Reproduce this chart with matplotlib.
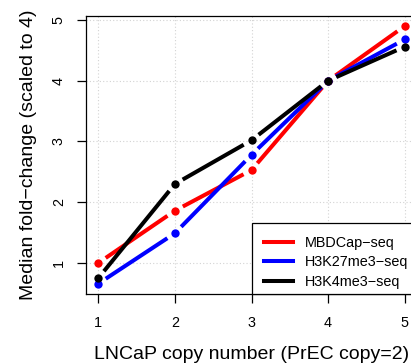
import matplotlib
matplotlib.use("Agg")
import matplotlib.pyplot as plt
from matplotlib.patches import Rectangle
import numpy as np

plt.rcParams["font.family"] = ["Liberation Sans", "DejaVu Sans"]

# copy number on x, median fold-change (scaled to 4) on y
copy_number = [1, 2, 3, 4, 5]
mbdcap = [1.00, 1.86, 2.53, 4.00, 4.90]
h3k27me3 = [0.66, 1.49, 2.78, 4.00, 4.68]
h3k4me3 = [0.75, 2.30, 3.02, 4.00, 4.56]

series_names = ["MBDCap\u2212seq", "H3K27me3\u2212seq", "H3K4me3\u2212seq"]
series_colors = ["#ff0000", "#0000ff", "#000000"]

W, H = 411, 364
fig = plt.figure(figsize=(W / 100, H / 100), dpi=100)
ax = fig.add_axes([86 / W, 1 - 294 / H, (417 - 86) / W, (294 - 15.7) / H])

ax.set_xlim(0.84, 5.16)
ax.set_ylim(0.49, 5.07)
ax.set_xticks(copy_number)
ax.set_yticks([1, 2, 3, 4, 5])
ax.grid(True, color="#d3d3d3", linestyle=(0, (1, 2)), linewidth=0.8)
ax.set_axisbelow(True)
for sp in ax.spines.values():
    sp.set_linewidth(0.9)
ax.tick_params(axis="both", length=6.5, width=0.9, labelsize=10.4)
ax.tick_params(axis="x", pad=9)
ax.tick_params(axis="y", pad=8)
plt.setp(ax.get_yticklabels(), rotation=90, va="center")

ax.set_xlabel("LNCaP copy number (PrEC copy=2)", fontsize=14, labelpad=12)
ax.set_ylabel("Median fold\u2212change (scaled to 4)", fontsize=14, labelpad=11)

GAP = 9.0  # pixels of gap between dot and line, like R type="b"


def draw_b(xs, ys, color, label):
    pts = ax.transData.transform(np.column_stack([xs, ys]))
    inv = ax.transData.inverted()
    for p0, p1 in zip(pts[:-1], pts[1:]):
        d = p1 - p0
        n = np.hypot(*d)
        if n <= 2 * GAP:
            continue
        u = d / n
        a = inv.transform(p0 + u * GAP)
        b = inv.transform(p1 - u * GAP)
        ax.plot([a[0], b[0]], [a[1], b[1]], color=color, lw=2.9,
                solid_capstyle="butt")
    ax.plot(xs, ys, linestyle="none", marker="o", markersize=6,
            color=color, markeredgewidth=0)
    ax.plot([], [], color=color, lw=2.9, label=label)


for vals, name, col in zip([mbdcap, h3k27me3, h3k4me3], series_names, series_colors):
    draw_b(copy_number, vals, col, name)

# legend box like R's (frame drawn separately)
ax.add_patch(Rectangle((0.5015, 0.0), 0.6, 0.254, transform=ax.transAxes,
                       facecolor="white", edgecolor="black", linewidth=0.9,
                       zorder=4, clip_on=False))
leg = ax.legend(loc="upper left", bbox_to_anchor=(0.5015, 0.254), fontsize=10.4,
                frameon=False, handlelength=2.0, handletextpad=0.8,
                borderpad=0.85, labelspacing=0.38, borderaxespad=0)
leg.set_zorder(5)

fig.savefig("out.png", dpi=100)
